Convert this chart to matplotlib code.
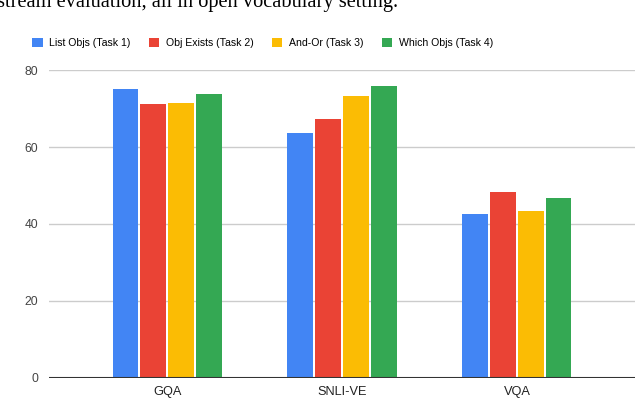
import matplotlib.pyplot as plt
import numpy as np

plt.rcParams['font.family'] = ['Liberation Sans', 'DejaVu Sans']

categories = ['GQA', 'SNLI-VE', 'VQA']
series_names = ['List Objs (Task 1)', 'Obj Exists (Task 2)', 'And-Or (Task 3)', 'Which Objs (Task 4)']
list_objs = [75.2, 63.6, 42.5]
obj_exists = [71.3, 67.2, 48.4]
and_or = [71.4, 73.3, 43.4]
which_objs = [73.8, 75.8, 46.8]
yticks = [0, 20, 40, 60, 80]

colors = ['#4285F4', '#EA4335', '#FBBC04', '#34A853']
values = [list_objs, obj_exists, and_or, which_objs]

fig = plt.figure(figsize=(6.36, 3.98), dpi=100)
ax = fig.add_axes([49 / 636, 1 - 377.7 / 398, (635 - 49) / 636, (377.7 - 70.3) / 398])

x = np.arange(len(categories))
group_w = 0.635
bw = group_w / 4
for i, (vals, c, name) in enumerate(zip(values, colors, series_names)):
    ax.bar(x - group_w / 2 + bw * (i + 0.5), vals, width=bw * 0.93, color=c,
           label=name, zorder=3)

ax.set_ylim(0, 80)
ax.set_xlim(-0.675, 2.675)
ax.set_yticks(yticks)
ax.set_xticks(x)
ax.set_xticklabels(categories, fontsize=9.2, color='#222222')
ax.tick_params(axis='y', length=0, pad=8, labelsize=8.7, labelcolor='#444444')
ax.tick_params(axis='x', length=0, pad=6)
ax.grid(axis='y', color='#cccccc', linewidth=1, zorder=0)
for s in ax.spines.values():
    s.set_visible(False)
ax.axhline(0, color='#333333', linewidth=1.5, zorder=4)

fig.legend(loc='center left', bbox_to_anchor=(32 / 636, 1 - 43 / 398), ncol=4,
           frameon=False, fontsize=7.6, handlelength=1.0, handleheight=1.0,
           handletextpad=0.65, columnspacing=1.7, borderpad=0, borderaxespad=0)

# caption text from the page above, mostly cut off
fig.text(-0.004, 1 - 6.5 / 398, 'stream evaluation, all in open vocabulary setting.',
         family='Liberation Serif', fontsize=14.7, va='baseline', ha='left')

fig.savefig('out.png', dpi=100)
